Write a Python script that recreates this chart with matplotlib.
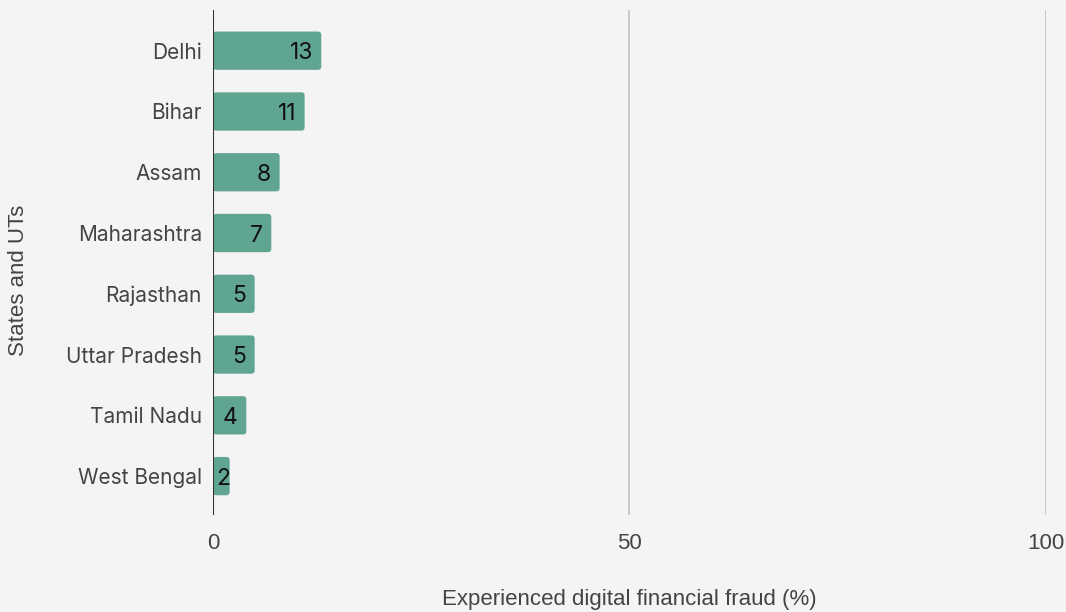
import matplotlib
matplotlib.use("Agg")
import matplotlib.pyplot as plt
from matplotlib.patches import FancyBboxPatch

# share of adults who experienced digital financial fraud, by state/UT
states = ["Delhi", "Bihar", "Assam", "Maharashtra", "Rajasthan",
          "Uttar Pradesh", "Tamil Nadu", "West Bengal"]
fraud_pct = [13, 11, 8, 7, 5, 5, 4, 2]
x_ticks = [0, 50, 100]

bg = "#f4f4f4"
bar_color = "#5fa592"

fig = plt.figure(figsize=(10.66, 6.12), dpi=100, facecolor=bg)
ax = fig.add_axes([0.1998, 0.1585, 0.7814, 0.8252], facecolor=bg)

ypos = list(range(len(states)))
bars = ax.barh(ypos, fraud_pct, height=0.63, color=bar_color, zorder=3)

# swap the plain rectangles for ones with slightly rounded corners
for b in bars:
    x0, y0, w, h = b.get_x(), b.get_y(), b.get_width(), b.get_height()
    b.set_visible(False)
    ax.add_patch(FancyBboxPatch((x0, y0), w, h,
                                boxstyle="round,pad=0,rounding_size=0.4",
                                mutation_aspect=0.14, fc=bar_color, ec="none",
                                zorder=3))

for y, v in zip(ypos, fraud_pct):
    if v < 3:
        # too short to right-align inside, start from the bar base instead
        ax.text(0.35, y, str(v), ha="left", va="center_baseline",
                fontsize=16.5, color="#111111", family="Inter", zorder=4)
    else:
        ax.text(v - 1.0, y, str(v), ha="right", va="center_baseline",
                fontsize=16.5, color="#111111", family="Inter", zorder=4)

ax.set_xlim(0, 100)
ax.set_ylim(7.64, -0.67)
ax.set_xticks(x_ticks)
ax.set_xticklabels([str(t) for t in x_ticks], fontsize=16,
                   color="#444444", family="Liberation Sans")
ax.set_yticks(ypos)
ax.set_yticklabels(states, fontsize=15, color="#444444", family="Inter")
ax.tick_params(length=0)
ax.tick_params(axis="x", pad=13)
ax.tick_params(axis="y", pad=8)

for t in x_ticks[1:]:
    ax.axvline(t, color="#c4c4c4", lw=1.3, zorder=1)
ax.axvline(0, color="#333333", lw=1.5, zorder=5)

for s in ax.spines.values():
    s.set_visible(False)

ax.set_xlabel("Experienced digital financial fraud (%)", fontsize=16,
              color="#444444", family="Liberation Sans", labelpad=25)
ax.set_ylabel("States and UTs", fontsize=16, color="#444444",
              family="Liberation Sans")
ax.yaxis.set_label_coords(-0.221, 0.465)

fig.savefig("out.png", dpi=100, facecolor=bg)
